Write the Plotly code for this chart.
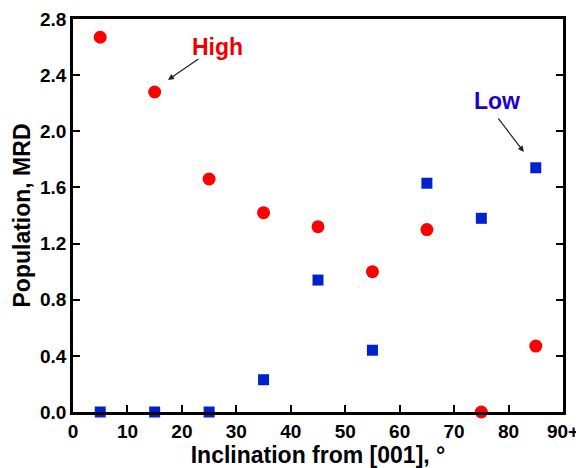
import plotly.graph_objects as go

angles = [5, 15, 25, 35, 45, 55, 65, 75, 85]
high = [2.67, 2.28, 1.66, 1.42, 1.32, 1.00, 1.30, 0.0, 0.47]
low = [0.0, 0.0, 0.0, 0.23, 0.94, 0.44, 1.63, 1.38, 1.74]
x_ticks = [0, 10, 20, 30, 40, 50, 60, 70, 80, 90]
x_ticktext = ["0", "10", "20", "30", "40", "50", "60", "70", "80", "90+"]
y_ticks = [0.0, 0.4, 0.8, 1.2, 1.6, 2.0, 2.4, 2.8]
y_ticktext = ["0.0", "0.4", "0.8", "1.2", "1.6", "2.0", "2.4", "2.8"]

FONT = "Liberation Sans, Arial, sans-serif"

fig = go.Figure()
fig.add_trace(go.Scatter(x=angles, y=high, mode="markers", name="High",
                         marker=dict(symbol="circle", size=13, color="#ff0000"),
                         cliponaxis=False))
fig.add_trace(go.Scatter(x=angles, y=low, mode="markers", name="Low",
                         marker=dict(symbol="square", size=11, color="#0022cc"),
                         cliponaxis=False))

fig.update_layout(
    width=576, height=460,
    margin=dict(l=65, r=21, t=11, b=56, autoexpand=False),
    paper_bgcolor="white", plot_bgcolor="white",
    showlegend=False,
    font=dict(family=FONT, color="black"),
    xaxis=dict(range=[0, 90], tickvals=x_ticks, ticktext=x_ticktext,
               ticks="inside", ticklen=7, tickwidth=1.5, tickcolor="black",
               showline=True, linecolor="black", linewidth=2.5, mirror=True,
               showgrid=False, zeroline=False, automargin=False,
               tickfont=dict(size=19, family=FONT, weight="bold"),
               title=dict(text="<b>Inclination from [001], °</b>", font=dict(size=23), standoff=2)),
    yaxis=dict(range=[0, 2.8], tickvals=y_ticks, ticktext=y_ticktext,
               ticks="inside", ticklen=7, tickwidth=1.5, tickcolor="black",
               showline=True, linecolor="black", linewidth=2.5, mirror="ticks",
               showgrid=False, zeroline=False, automargin=False,
               tickfont=dict(size=19, family=FONT, weight="bold"),
               title=dict(text="<b>Population, MRD</b>", font=dict(size=23), standoff=3)),
)

fig.add_annotation(x=26.6, y=2.60, xref="x", yref="y", text="<b>High</b>", showarrow=False,
                   font=dict(size=23, color="#ee0000", family=FONT))
fig.add_annotation(x=17.45, y=2.366, ax=23.3, ay=2.523, xref="x", yref="y", axref="x", ayref="y",
                   text="", showarrow=True, arrowhead=2, arrowsize=1, arrowwidth=1.2, arrowcolor="#222")
fig.add_annotation(x=77.9, y=2.217, xref="x", yref="y", text="<b>Low</b>", showarrow=False,
                   font=dict(size=23, color="#2200cc", family=FONT))
fig.add_annotation(x=82.8, y=1.853, ax=77.9, ay=2.103, xref="x", yref="y", axref="x", ayref="y",
                   text="", showarrow=True, arrowhead=2, arrowsize=1, arrowwidth=1.2, arrowcolor="#222")

fig.write_html("out.html")
